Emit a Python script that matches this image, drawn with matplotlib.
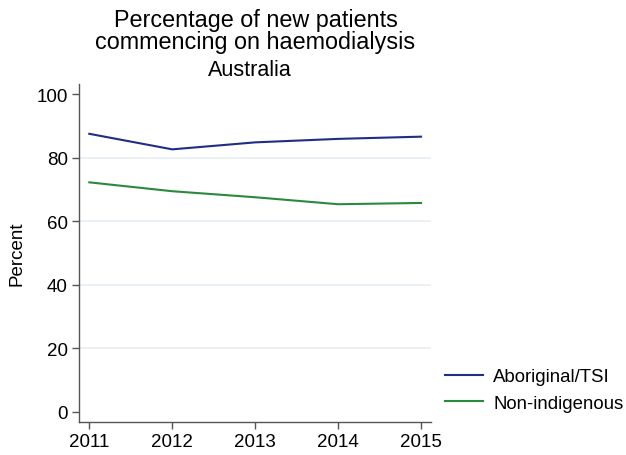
import matplotlib
matplotlib.use("Agg")
import matplotlib.pyplot as plt

years = [2011, 2012, 2013, 2014, 2015]
aboriginal = [87.6, 82.7, 84.9, 86.0, 86.7]
non_indigenous = [72.3, 69.5, 67.6, 65.4, 65.8]
yticks = [0, 20, 40, 60, 80, 100]

plt.rcParams['font.family'] = ['Liberation Sans', 'DejaVu Sans']

W, H = 626, 456
fig = plt.figure(figsize=(W/100, H/100), dpi=100)
ax = fig.add_axes([79/W, 1-423/H, (431-79)/W, (423-85)/H])

blue = '#1f2d86'
green = '#2a8a3c'
ax.plot(years, aboriginal, color=blue, lw=1.5, label='Aboriginal/TSI')
ax.plot(years, non_indigenous, color=green, lw=1.5, label='Non-indigenous')

ax.set_xlim(2010.876, 2015.12)
ax.set_ylim(-3.25, 103.3)
ax.set_xticks(years)
ax.set_yticks(yticks)
for g in [20, 40, 60, 80]:
    ax.axhline(g, color='#e8eef4', lw=1.2, zorder=0)
ax.spines['top'].set_visible(False)
ax.spines['right'].set_visible(False)
for s in ['left', 'bottom']:
    ax.spines[s].set_color('#555555')
    ax.spines[s].set_linewidth(1.0)
ax.tick_params(axis='both', labelsize=13.5, length=5, width=1, color='#555555', pad=3)
ax.set_ylabel('Percent', fontsize=13.5, labelpad=8)

fig.text(255.5/W, 1-20/H, 'Percentage of new patients', ha='center', va='center', fontsize=16.8)
fig.text(255.5/W, 1-43/H, 'commencing on haemodialysis', ha='center', va='center', fontsize=16.8)
fig.text(250/W, 1-71/H, 'Australia', ha='center', va='center', fontsize=15.5)

fig.legend(loc='center left', bbox_to_anchor=(445/W, 1-391/H), frameon=False,
           borderaxespad=0, borderpad=0,
           fontsize=13.4, handlelength=2.05, handletextpad=0.55, labelspacing=0.5)

fig.savefig('out.png', dpi=100, facecolor='white')
